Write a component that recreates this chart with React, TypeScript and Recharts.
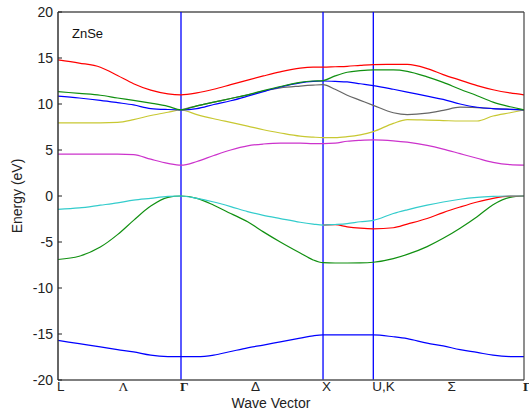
import React from 'react';
import { LineChart, Line, XAxis, YAxis, ReferenceLine } from 'recharts';

// position along the path L - Γ - X - U,K - Γ
const kPos = [0, 0.149, 0.298, 0.419, 0.532, 0.653, 0.774, 0.866, 0.978, 1.097, 1.216, 1.335, 1.446, 1.565, 1.705, 1.796, 1.866, 1.951, 2.036, 2.128, 2.22, 2.361, 2.459, 2.599, 2.712, 2.831, 2.951, 3.063, 3.183, 3.281];

const kTicks = [0, 0.433, 0.866, 1.366, 1.866, 2.22, 2.75, 3.281];
const kLabels = ['L', 'Λ', 'Γ', 'Δ', 'X', 'U,K', 'Σ', 'Γ'];
const symLines = [0.866, 1.866, 2.22];
const energyTicks = [-20, -15, -10, -5, 0, 5, 10, 15, 20];

// null = degenerate with the band drawn over it
const band1 = [-15.7, -16.05, -16.4, -16.7, -16.95, -17.3, -17.45, -17.47, -17.47, -17.3, -16.9, -16.5, -16.2, -15.85, -15.45, -15.2, -15.1, -15.1, -15.1, -15.1, -15.1, -15.3, -15.5, -16.0, -16.3, -16.7, -17.0, -17.3, -17.45, -17.47];
const band2 = [-6.9, -6.55, -5.55, -4.2, -2.65, -1.1, -0.15, 0, -0.25, -1.0, -1.9, -2.8, -3.9, -5.0, -6.2, -6.95, -7.25, -7.28, -7.28, -7.27, -7.2, -6.8, -6.35, -5.5, -4.6, -3.5, -2.25, -0.95, -0.15, 0];
const band3 = [-1.45, -1.3, -1.0, -0.75, -0.45, -0.25, -0.05, 0, -0.25, -0.65, -1.15, -1.7, -2.1, -2.45, -2.85, -3.05, -3.17, -3.1, -3.0, -2.8, -2.65, -1.9, -1.5, -1.0, -0.65, -0.35, -0.15, -0.05, 0, 0];
const band4 = [null, null, null, null, null, null, null, null, null, null, null, null, null, null, null, null, -3.17, -3.12, -3.35, -3.5, -3.57, -3.45, -3.05, -2.45, -1.8, -1.2, -0.65, -0.25, -0.02, 0];
const band5 = [4.55, 4.55, 4.55, 4.55, 4.5, 4.0, 3.55, 3.35, 3.75, 4.4, 5.0, 5.45, 5.65, 5.75, 5.75, 5.7, 5.7, 5.75, 5.95, 6.05, 6.1, 6.0, 5.85, 5.5, 5.1, 4.6, 4.1, 3.65, 3.4, 3.35];
const band6 = [7.95, 7.95, 7.95, 8.0, 8.3, 8.75, 9.1, 9.35, 8.85, 8.4, 8.0, 7.6, 7.2, 6.85, 6.5, 6.4, 6.35, 6.35, 6.45, 6.65, 7.0, 7.9, 8.3, 8.25, 8.2, 8.15, 8.15, 8.7, 9.05, 9.35];
const band7 = [10.85, 10.65, 10.4, 10.15, 9.9, 9.5, 9.4, 9.37, 9.5, 9.95, 10.35, 10.85, 11.35, 11.85, 12.3, 12.45, 12.5, 12.45, 12.4, 12.2, 12.0, 11.6, 11.3, 10.85, 10.5, 10.0, 9.65, 9.5, 9.42, 9.37];
const band8 = [11.35, 11.15, 10.95, 10.65, 10.4, 10.1, 9.75, 9.37, 9.8, 10.2, 10.6, 11.0, 11.45, 11.9, 12.35, 12.5, 12.55, 13.05, 13.45, 13.62, 13.7, 13.7, 13.55, 12.95, 12.35, 11.6, 10.9, 10.2, 9.7, 9.37];
const band9 = [null, null, null, null, null, null, null, 9.37, 9.8, 10.2, 10.6, 11.0, 11.4, 11.75, 11.95, 12.05, 12.1, 11.6, 10.95, 10.4, 9.85, 9.05, 8.85, 9.0, 9.3, 9.65, 9.6, 9.5, 9.42, 9.37];
const band10 = [14.8, 14.45, 14.0, 13.1, 12.2, 11.5, 11.1, 11.0, 11.2, 11.6, 12.1, 12.6, 13.05, 13.5, 13.9, 14.0, 14.0, 14.05, 14.1, 14.2, 14.28, 14.3, 14.3, 13.85, 13.2, 12.6, 12.0, 11.55, 11.2, 11.0];

const data = kPos.map((k, i) => ({
  k,
  b1: band1[i], b2: band2[i], b3: band3[i], b4: band4[i], b5: band5[i],
  b6: band6[i], b7: band7[i], b8: band8[i], b9: band9[i], b10: band10[i],
}));

// drawing order matters where bands touch
const series = [
  { key: 'b1', color: '#0000ff' },
  { key: 'b2', color: '#119011' },
  { key: 'b4', color: '#ff0000' },
  { key: 'b3', color: '#33cccc' },
  { key: 'b5', color: '#cc33cc' },
  { key: 'b6', color: '#c8c832' },
  { key: 'b9', color: '#666666' },
  { key: 'b7', color: '#0000ff' },
  { key: 'b8', color: '#119011' },
  { key: 'b10', color: '#ff0000' },
];

const font = 'Liberation Sans, Arial, sans-serif';

const LeftTick = (props: any) => {
  const { x, y, payload } = props;
  return (
    <g>
      <line x1={x + 5} x2={x + 9} y1={y} y2={y} stroke="#222" />
      <text x={x} y={y} dy="0.36em" textAnchor="end" fontSize={14} fontFamily={font} fill="#222">
        {payload.value}
      </text>
    </g>
  );
};

const RightTick = (props: any) => {
  const { x, y } = props;
  return <line x1={x - 4} x2={x} y1={y} y2={y} stroke="#222" />;
};

const BottomTick = (props: any) => {
  const { x, y, index } = props;
  const label = kLabels[index];
  const serif = label === 'Γ' || label === 'Λ';
  return (
    <text
      x={x - 1}
      y={y}
      dy="0.7em"
      textAnchor="start"
      fontSize={13.5}
      fontWeight={label === 'Γ' ? 'bold' : 'normal'}
      fontFamily={serif ? 'Liberation Serif, Times New Roman, serif' : font}
      fill="#222"
    >
      {label}
    </text>
  );
};

export default function App() {
  return (
    <div style={{ position: 'absolute', left: 0, top: 0, width: 529, height: 415, background: '#fff' }}>
      <LineChart width={529} height={415} data={data} margin={{ top: 12, right: 0, bottom: 0, left: 0 }}>
        <XAxis
          dataKey="k"
          type="number"
          domain={[0, 3.281]}
          ticks={kTicks}
          tick={<BottomTick />}
          tickLine={false}
          tickSize={0}
          tickMargin={2}
          height={35}
          axisLine={{ stroke: '#555', strokeWidth: 1.5 }}
          interval={0}
        />
        <YAxis
          type="number"
          domain={[-20, 20]}
          ticks={energyTicks}
          tick={<LeftTick />}
          tickLine={false}
          tickSize={0}
          tickMargin={5}
          width={58}
          axisLine={{ stroke: '#333', strokeWidth: 1.5 }}
          interval={0}
        />
        <YAxis
          yAxisId="r"
          orientation="right"
          type="number"
          domain={[-20, 20]}
          ticks={energyTicks}
          tick={<RightTick />}
          tickLine={false}
          tickSize={0}
          tickMargin={0}
          width={5}
          axisLine={{ stroke: '#444', strokeWidth: 1.2 }}
          interval={0}
        />
        <ReferenceLine y={20} stroke="#000" strokeWidth={1.2} />
        {symLines.map((k) => (
          <ReferenceLine key={k} x={k} stroke="#0000ff" strokeWidth={1.3} />
        ))}
        {series.map((s) => (
          <Line
            key={s.key}
            dataKey={s.key}
            type="monotone"
            stroke={s.color}
            strokeWidth={1.2}
            dot={false}
            activeDot={false}
            isAnimationActive={false}
          />
        ))}
      </LineChart>
      <svg
        width={529}
        height={415}
        style={{ position: 'absolute', left: 0, top: 0, pointerEvents: 'none' }}
      >
        <text x={72} y={38} fontSize={13} fontFamily={font} fill="#111">ZnSe</text>
        <text x={271} y={408} textAnchor="middle" fontSize={14} fontFamily={font} fill="#222">Wave Vector</text>
        <text transform="translate(22,196) rotate(-90)" textAnchor="middle" fontSize={14} fontFamily={font} fill="#222">
          Energy (eV)
        </text>
      </svg>
    </div>
  );
}
